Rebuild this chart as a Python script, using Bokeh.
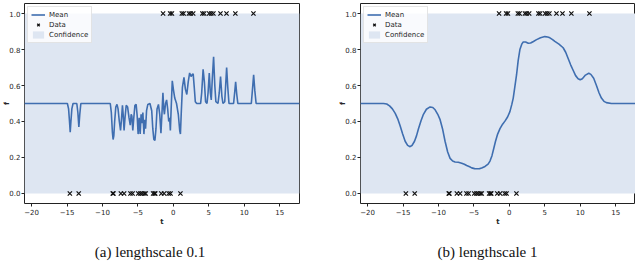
from bokeh.plotting import figure
from bokeh.layouts import row, column
from bokeh.core.properties import value
from bokeh.models import (Range1d, FixedTicker, PrintfTickFormatter, CustomJSTickFormatter,
                          Legend, LegendItem, ColumnDataSource)
from bokeh.embed import file_html
from bokeh.resources import INLINE

# ---------------- data ----------------
x_limits = [-21.0, 17.8]
y_limits = [-0.056, 1.056]
x_ticks = [-20, -15, -10, -5, 0, 5, 10, 15]
y_ticks = [0.0, 0.2, 0.4, 0.6, 0.8, 1.0]

data_t_neg = [-14.6, -13.35, -8.55, -8.45, -7.4, -6.95, -6.05, -5.75, -4.95, -4.65,
              -4.4, -4.1, -3.9, -2.85, -2.65, -2.55, -1.7, -1.3, -0.65, -0.4, 1.0]
data_y_neg = [0.0] * len(data_t_neg)
data_t_pos = [-1.45, -0.45, -0.2, 1.2, 1.45, 2.2, 2.45, 2.8, 4.1, 4.35, 5.05, 5.35,
              5.65, 6.65, 7.5, 8.75, 11.3]
data_y_pos = [1.0] * len(data_t_pos)

band_t = [-21.0, 17.8]
band_lower = [0.0, 0.0]
band_upper = [1.0, 1.0]

mean_a_t = [-21.0, -14.95, -14.78, -14.65, -14.55, -14.45, -14.32, -14.15, -13.62, -13.47,
            -13.33, -13.2, -13.05, -8.9, -8.75, -8.6, -8.5, -8.4, -8.28, -8.12,
            -7.95, -7.8, -7.62, -7.45, -7.3, -7.18, -7.08, -6.95, -6.82, -6.65,
            -6.45, -6.25, -6.08, -5.95, -5.85, -5.72, -5.58, -5.42, -5.25, -5.1,
            -4.97, -4.82, -4.68, -4.55, -4.42, -4.3, -4.15, -4.02, -3.92, -3.78,
            -3.6, -3.3, -3.05, -2.9, -2.75, -2.6, -2.45, -2.3, -2.1, -1.92,
            -1.75, -1.6, -1.47, -1.35, -1.26, -1.1, -0.95, -0.8, -0.65, -0.52,
            -0.42, -0.3, -0.15, 0.0, 0.2, 0.45, 0.7, 0.9, 1.0, 1.12,
            1.28, 1.5, 1.7, 1.9, 2.1, 2.3, 2.5, 2.65, 2.8, 2.95,
            3.1, 3.3, 3.85, 4.0, 4.2, 4.38, 4.55, 4.75, 4.9, 5.07,
            5.22, 5.35, 5.5, 5.68, 5.85, 6.0, 6.3, 6.48, 6.66, 6.85,
            7.0, 7.25, 7.38, 7.52, 7.68, 7.85, 8.5, 8.65, 8.79, 8.95,
            9.1, 11.0, 11.15, 11.33, 11.5, 11.68, 17.8]
mean_a_f = [0.5, 0.5, 0.47, 0.40, 0.34, 0.40, 0.47, 0.5, 0.5, 0.45,
            0.37, 0.44, 0.5, 0.5, 0.45, 0.34, 0.30, 0.32, 0.40, 0.48,
            0.495, 0.47, 0.40, 0.35, 0.42, 0.49, 0.44, 0.35, 0.42, 0.49,
            0.48, 0.42, 0.38, 0.44, 0.43, 0.35, 0.42, 0.49, 0.495, 0.43,
            0.33, 0.42, 0.33, 0.44, 0.39, 0.45, 0.33, 0.41, 0.36, 0.46,
            0.495, 0.5, 0.46, 0.36, 0.30, 0.295, 0.36, 0.47, 0.495, 0.44,
            0.335, 0.45, 0.56, 0.47, 0.44, 0.50, 0.52, 0.47, 0.40, 0.42,
            0.35, 0.48, 0.626, 0.58, 0.53, 0.50, 0.44, 0.35, 0.33, 0.45,
            0.59, 0.645, 0.58, 0.55, 0.62, 0.67, 0.65, 0.66, 0.665, 0.59,
            0.51, 0.5, 0.5, 0.56, 0.69, 0.62, 0.51, 0.5, 0.56, 0.67,
            0.56, 0.52, 0.64, 0.76, 0.60, 0.51, 0.5, 0.56, 0.65, 0.54,
            0.5, 0.51, 0.60, 0.70, 0.59, 0.5, 0.5, 0.56, 0.62, 0.55,
            0.5, 0.5, 0.57, 0.66, 0.57, 0.5, 0.5]

mean_b_t = [-21.0, -17.75, -17.3, -16.9, -16.5, -16.1, -15.7, -15.4, -15.05, -14.7,
            -14.35, -14.0, -13.7, -13.38, -13.1, -12.82, -12.45, -12.12, -11.7, -11.18,
            -10.8, -10.47, -10.1, -9.77, -9.4, -9.07, -8.7, -8.36, -8.0, -7.66,
            -7.2, -6.72, -6.35, -6.02, -5.6, -5.31, -4.9, -4.51, -4.2, -3.9,
            -3.43, -3.0, -2.73, -2.45, -2.2, -1.95, -1.65, -1.32, -0.95, -0.62,
            -0.25, 0.08, 0.35, 0.55, 0.8, 1.02, 1.25, 1.49, 1.75, 1.96,
            2.3, 2.67, 3.0, 3.4, 3.84, 4.4, 5.01, 5.4, 5.72, 6.1,
            6.42, 7.0, 7.59, 7.95, 8.3, 8.65, 9.0, 9.35, 9.7, 10.0,
            10.3, 10.74, 11.21, 11.5, 11.9, 12.29, 12.65, 12.99, 13.35, 13.69,
            14.4, 17.8]
mean_b_f = [0.5, 0.5, 0.497, 0.487, 0.47, 0.445, 0.41, 0.375, 0.33, 0.29,
            0.267, 0.26, 0.268, 0.29, 0.32, 0.36, 0.405, 0.44, 0.468, 0.481,
            0.478, 0.465, 0.44, 0.41, 0.355, 0.29, 0.23, 0.195, 0.18, 0.175,
            0.173, 0.168, 0.162, 0.155, 0.148, 0.142, 0.138, 0.137, 0.138, 0.141,
            0.15, 0.163, 0.18, 0.21, 0.25, 0.29, 0.33, 0.36, 0.385, 0.402,
            0.425, 0.455, 0.495, 0.53, 0.60, 0.66, 0.74, 0.80, 0.83, 0.842,
            0.842, 0.835, 0.836, 0.845, 0.855, 0.866, 0.872, 0.87, 0.865, 0.855,
            0.845, 0.83, 0.81, 0.785, 0.75, 0.715, 0.685, 0.655, 0.638, 0.632,
            0.638, 0.658, 0.668, 0.662, 0.64, 0.60, 0.56, 0.53, 0.512, 0.505,
            0.5, 0.5]

captions = ["(a) lengthscale 0.1", "(b) lengthscale 1"]
legend_labels = ["Mean", "Data", "Confidence"]
axis_labels = ["t", "f"]

LINE_COLOR = "#3f6eb0"
BAND_COLOR = "#dee6f2"
TEXT_COLOR = "#262626"


def make_panel(mean_t, mean_f, width, border_left, border_right):
    p = figure(width=width, height=244, output_backend="svg", toolbar_location=None,
               x_range=Range1d(*x_limits), y_range=Range1d(*y_limits),
               min_border_left=border_left, min_border_right=border_right,
               min_border_top=3, min_border_bottom=41)
    p.background_fill_color = "white"
    p.border_fill_color = "white"
    p.outline_line_color = "#222222"
    p.outline_line_width = 1
    p.grid.visible = False

    band = p.varea(x=band_t, y1=band_lower, y2=band_upper,
                   fill_color=BAND_COLOR, fill_alpha=1.0)
    line = p.line(mean_t, mean_f, line_color=LINE_COLOR, line_width=1.6)
    src = ColumnDataSource(dict(t=data_t_neg + data_t_pos, y=data_y_neg + data_y_pos))
    pts = p.scatter("t", "y", source=src, marker="x", size=6, line_color="#111111",
                    line_width=1.2)

    for ax in (p.xaxis[0], p.yaxis[0]):
        ax.axis_line_color = None
        ax.major_tick_line_color = "#222222"
        ax.major_tick_out = 3
        ax.major_tick_in = 0
        ax.minor_tick_line_color = None
        ax.major_label_text_font = "DejaVu Sans"
        ax.major_label_text_font_size = "7px"
        ax.major_label_text_color = TEXT_COLOR
        ax.axis_label_text_font = "DejaVu Sans"
        ax.axis_label_text_font_size = "7px"
        ax.axis_label_text_font_style = "bold"
        ax.axis_label_text_color = TEXT_COLOR

    p.xaxis.ticker = FixedTicker(ticks=x_ticks)
    p.xaxis.formatter = CustomJSTickFormatter(
        code="return tick < 0 ? '\u2212' + Math.abs(tick) : String(tick);")
    p.xaxis.axis_label = axis_labels[0]
    p.xaxis.major_label_standoff = 2
    p.xaxis.axis_label_standoff = 0

    p.yaxis.ticker = FixedTicker(ticks=y_ticks)
    p.yaxis.formatter = PrintfTickFormatter(format="%.1f")
    p.yaxis.axis_label = axis_labels[1]
    p.yaxis.major_label_standoff = 1
    p.yaxis.axis_label_standoff = -5

    legend = Legend(items=[LegendItem(label=legend_labels[0], renderers=[line]),
                           LegendItem(label=legend_labels[1], renderers=[pts]),
                           LegendItem(label=legend_labels[2], renderers=[band])],
                    location="top_left")
    legend.margin = 3
    legend.padding = 3
    legend.spacing = 1
    legend.glyph_width = 14
    legend.glyph_height = 9
    legend.label_height = 9
    legend.label_standoff = 4
    legend.label_text_font = "DejaVu Sans"
    legend.label_text_font_size = "7px"
    legend.label_text_color = TEXT_COLOR
    legend.border_line_color = "#cccccc"
    legend.border_line_width = 1
    legend.background_fill_color = "white"
    legend.background_fill_alpha = 0.8
    p.add_layout(legend, "center")
    return p


def make_caption(text, width, center_x):
    c = figure(width=width, height=20, output_backend="svg", toolbar_location=None,
               x_range=Range1d(0, width), y_range=Range1d(0, 20),
               min_border=0, min_border_left=0, min_border_right=0,
               min_border_top=0, min_border_bottom=0)
    c.axis.visible = False
    c.grid.visible = False
    c.outline_line_color = None
    c.background_fill_color = "white"
    c.border_fill_color = "white"
    c.text(x=[center_x], y=[13], text=[text], text_font=value("Liberation Serif"),
           text_font_size="15px", text_color="#111111", text_align="center",
           text_baseline="alphabetic")
    return c


p1 = make_panel(mean_a_t, mean_a_f, 315, 24, 16)
p2 = make_panel(mean_b_t, mean_b_f, 320, 45, 0)
c1 = make_caption(captions[0], 315, 149.5)
c2 = make_caption(captions[1], 320, 172)

layout = column(row(p1, p2), row(c1, c2))
open("out.html", "w").write(file_html(layout, INLINE))
